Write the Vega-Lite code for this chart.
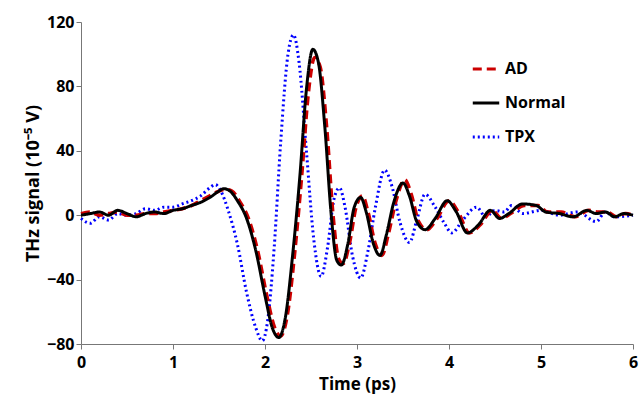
{
  "$schema": "https://vega.github.io/schema/vega-lite/v6.json",
  "width": 552,
  "height": 322,
  "padding": {"left": 24, "top": 14, "right": 5, "bottom": 5},
  "datasets": {
    "normal": [
      {"t":0,"v":0},{"t":0.1,"v":1},{"t":0.2,"v":2},{"t":0.3,"v":0},{"t":0.4,"v":3},{"t":0.5,"v":1},{"t":0.6,"v":-1},{"t":0.7,"v":1},{"t":0.8,"v":2},{"t":0.9,"v":1},{"t":1.0,"v":3},{"t":1.1,"v":4},{"t":1.2,"v":6},{"t":1.3,"v":8},{"t":1.4,"v":11},{"t":1.5,"v":15},{"t":1.55,"v":16.5},{"t":1.62,"v":15},{"t":1.7,"v":9},{"t":1.8,"v":-2},{"t":1.9,"v":-22},{"t":2.0,"v":-50},{"t":2.08,"v":-70},{"t":2.15,"v":-76},{"t":2.22,"v":-64},{"t":2.3,"v":-25},{"t":2.38,"v":25},{"t":2.45,"v":78},{"t":2.52,"v":103},{"t":2.58,"v":95},{"t":2.65,"v":55},{"t":2.72,"v":0},{"t":2.78,"v":-28},{"t":2.83,"v":-31},{"t":2.9,"v":-18},{"t":2.97,"v":5},{"t":3.04,"v":11},{"t":3.1,"v":2},{"t":3.18,"v":-18},{"t":3.25,"v":-25},{"t":3.32,"v":-12},{"t":3.4,"v":8},{"t":3.5,"v":20},{"t":3.57,"v":12},{"t":3.65,"v":-4},{"t":3.74,"v":-9},{"t":3.85,"v":-2},{"t":3.98,"v":9},{"t":4.08,"v":2},{"t":4.2,"v":-11},{"t":4.32,"v":-6},{"t":4.45,"v":3},{"t":4.55,"v":-2},{"t":4.65,"v":1},{"t":4.8,"v":7},{"t":4.95,"v":6},{"t":5.05,"v":2},{"t":5.2,"v":1},{"t":5.35,"v":-1},{"t":5.5,"v":3},{"t":5.6,"v":1},{"t":5.7,"v":2},{"t":5.8,"v":-1},{"t":5.9,"v":1},{"t":6,"v":0}
    ],
    "ad": [
      {"t":0,"v":1},{"t":0.1,"v":2},{"t":0.2,"v":0},{"t":0.3,"v":1},{"t":0.4,"v":2},{"t":0.5,"v":0},{"t":0.6,"v":0},{"t":0.7,"v":1},{"t":0.8,"v":1},{"t":0.9,"v":2},{"t":1.0,"v":3},{"t":1.1,"v":4},{"t":1.2,"v":6},{"t":1.3,"v":9},{"t":1.4,"v":12},{"t":1.5,"v":15},{"t":1.57,"v":16},{"t":1.64,"v":15},{"t":1.72,"v":9},{"t":1.82,"v":-2},{"t":1.92,"v":-22},{"t":2.02,"v":-50},{"t":2.1,"v":-69},{"t":2.17,"v":-75},{"t":2.24,"v":-63},{"t":2.32,"v":-25},{"t":2.4,"v":25},{"t":2.47,"v":75},{"t":2.54,"v":98},{"t":2.6,"v":92},{"t":2.67,"v":55},{"t":2.74,"v":0},{"t":2.8,"v":-27},{"t":2.85,"v":-30},{"t":2.92,"v":-17},{"t":2.99,"v":5},{"t":3.06,"v":12},{"t":3.12,"v":2},{"t":3.2,"v":-18},{"t":3.27,"v":-25},{"t":3.34,"v":-12},{"t":3.42,"v":8},{"t":3.52,"v":22},{"t":3.59,"v":13},{"t":3.67,"v":-4},{"t":3.76,"v":-9},{"t":3.87,"v":-2},{"t":4.0,"v":9},{"t":4.1,"v":2},{"t":4.22,"v":-11},{"t":4.34,"v":-6},{"t":4.47,"v":3},{"t":4.57,"v":-2},{"t":4.67,"v":1},{"t":4.82,"v":6},{"t":4.97,"v":6},{"t":5.07,"v":2},{"t":5.22,"v":2},{"t":5.37,"v":-1},{"t":5.52,"v":3},{"t":5.62,"v":2},{"t":5.72,"v":2},{"t":5.82,"v":-1},{"t":5.92,"v":1},{"t":6,"v":0}
    ],
    "tpx": [
      {"t":0,"v":-2},{"t":0.1,"v":-5},{"t":0.2,"v":-1},{"t":0.3,"v":-3},{"t":0.4,"v":1},{"t":0.5,"v":0},{"t":0.6,"v":1},{"t":0.7,"v":4},{"t":0.8,"v":3},{"t":0.9,"v":5},{"t":1.0,"v":5},{"t":1.1,"v":7},{"t":1.2,"v":9},{"t":1.3,"v":12},{"t":1.4,"v":17},{"t":1.46,"v":19},{"t":1.52,"v":15},{"t":1.6,"v":3},{"t":1.7,"v":-18},{"t":1.8,"v":-48},{"t":1.9,"v":-70},{"t":1.97,"v":-78},{"t":2.03,"v":-65},{"t":2.1,"v":-20},{"t":2.17,"v":45},{"t":2.25,"v":100},{"t":2.31,"v":112},{"t":2.37,"v":95},{"t":2.45,"v":40},{"t":2.53,"v":-15},{"t":2.61,"v":-38},{"t":2.68,"v":-20},{"t":2.75,"v":10},{"t":2.81,"v":17},{"t":2.87,"v":5},{"t":2.95,"v":-25},{"t":3.04,"v":-39},{"t":3.12,"v":-22},{"t":3.2,"v":5},{"t":3.3,"v":28},{"t":3.38,"v":18},{"t":3.47,"v":-5},{"t":3.57,"v":-17},{"t":3.65,"v":-3},{"t":3.74,"v":13},{"t":3.85,"v":5},{"t":3.95,"v":-5},{"t":4.03,"v":-11},{"t":4.15,"v":-3},{"t":4.3,"v":5},{"t":4.4,"v":-1},{"t":4.5,"v":3},{"t":4.6,"v":2},{"t":4.68,"v":6},{"t":4.8,"v":1},{"t":5.0,"v":3},{"t":5.2,"v":0},{"t":5.4,"v":2},{"t":5.6,"v":-4},{"t":5.7,"v":2},{"t":5.8,"v":-1},{"t":6,"v":0}
    ]
  },
  "encoding": {
    "x": {"field": "t", "type": "quantitative", "title": "Time (ps)",
      "scale": {"domain": [0, 6], "nice": false},
      "axis": {"tickCount": 6, "grid": false, "labelFont": "Open Sans", "labelFontWeight": "bold", "labelFontSize": 16, "labelColor": "black", "labelPadding": 5,
        "titleFont": "Open Sans", "titleFontSize": 17, "titleColor": "black", "titlePadding": 6, "domainColor": "#777", "tickColor": "#777", "labelFlush": false}},
    "y": {"field": "v", "type": "quantitative", "title": "THz signal (10⁻⁵ V)",
      "scale": {"domain": [-80, 120], "nice": false},
      "axis": {"values": [-80, -40, 0, 40, 80, 120], "grid": false, "labelFont": "Open Sans", "labelFontWeight": "bold", "labelFontSize": 16, "labelColor": "black",
        "titleFont": "Open Sans", "titleFontSize": 18, "titleColor": "black", "domainColor": "#777", "tickColor": "#777"}},
    "color": {"field": "s", "type": "nominal",
      "scale": {"domain": ["AD", "Normal", "TPX"], "range": ["#cc0000", "black", "#0000ff"]},
      "legend": {"title": null, "orient": "none", "legendX": 390, "legendY": 32, "labelFont": "Open Sans", "labelFontWeight": "bold", "labelFontSize": 16, "symbolType": "stroke", "symbolSize": 700, "symbolStrokeWidth": 3, "rowPadding": 11}},
    "strokeDash": {"field": "s", "type": "nominal",
      "scale": {"domain": ["AD", "Normal", "TPX"], "range": [[9, 5], [1, 0], [2, 3]]},
      "legend": {"title": null, "orient": "none", "legendX": 390, "legendY": 32, "labelFont": "Open Sans", "labelFontWeight": "bold", "labelFontSize": 16, "symbolType": "stroke", "symbolSize": 700, "symbolStrokeWidth": 3, "rowPadding": 11}}
  },
  "layer": [
    {"data": {"name": "tpx"}, "transform": [{"calculate": "'TPX'", "as": "s"}], "mark": {"type": "line", "strokeWidth": 3, "interpolate": "monotone"}},
    {"data": {"name": "ad"}, "transform": [{"calculate": "'AD'", "as": "s"}], "mark": {"type": "line", "strokeWidth": 3.5, "interpolate": "monotone"}},
    {"data": {"name": "normal"}, "transform": [{"calculate": "'Normal'", "as": "s"}], "mark": {"type": "line", "strokeWidth": 3, "interpolate": "monotone"}}
  ],
  "config": {"view": {"stroke": null}}
}
